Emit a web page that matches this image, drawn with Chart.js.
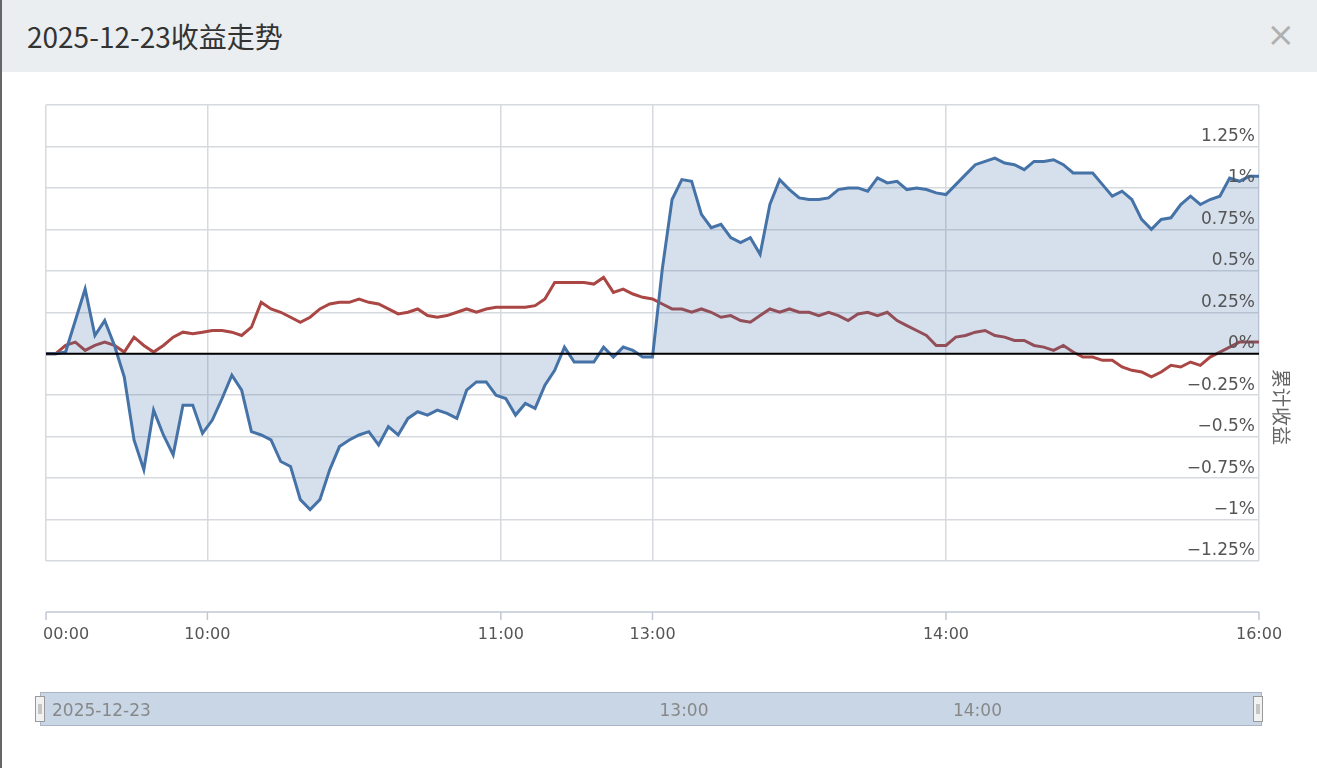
<!DOCTYPE html>
<html>
<head>
<meta charset="utf-8">
<script src="https://cdn.jsdelivr.net/npm/chart.js@4/dist/chart.umd.min.js"></script>
<style>
  html, body { margin: 0; padding: 0; background: #fff; }
  body { width: 1317px; height: 768px; overflow: hidden; border-left: 2px solid #666; box-sizing: border-box; }
  #head { height: 72px; background: #eaeef1; position: relative; }
  #head h1 { margin: 0; position: absolute; left: 25px; top: 16px; font: 28px "Noto Sans CJK SC", "Noto Sans", sans-serif; color: #333; font-weight: normal; }
  #head span { position: absolute; right: 22px; top: 14px; font: 34px "DejaVu Sans", sans-serif; color: #b0b0b0; }
  #wrap { position: absolute; left: 0; top: 72px; width: 1317px; height: 696px; }
</style>
</head>
<body>
<div id="head"><h1>2025-12-23收益走势</h1><span>×</span></div>
<div id="wrap"><canvas id="myChart"></canvas></div>
<script>
// one point every 2 trading minutes, values in %
const portfolio = [0, 0, 0.01, 0.2, 0.39, 0.11, 0.2, 0.05, -0.14, -0.52, -0.7, -0.34, -0.49, -0.61, -0.31, -0.31,
  -0.48, -0.4, -0.27, -0.13, -0.22, -0.47, -0.49, -0.52, -0.65, -0.68, -0.88, -0.94, -0.88, -0.7, -0.56, -0.52,
  -0.49, -0.47, -0.55, -0.44, -0.49, -0.39, -0.35, -0.37, -0.34, -0.36, -0.39, -0.22, -0.17, -0.17, -0.25, -0.27,
  -0.37, -0.3, -0.33, -0.19, -0.1, 0.04, -0.05, -0.05, -0.05, 0.04, -0.02, 0.04, 0.02, -0.02, -0.02, 0.51,
  0.93, 1.05, 1.04, 0.84, 0.76, 0.78, 0.7, 0.67, 0.7, 0.6, 0.9, 1.05, 0.99, 0.94, 0.93, 0.93,
  0.94, 0.99, 1.0, 1.0, 0.98, 1.06, 1.03, 1.04, 0.99, 1.0, 0.99, 0.97, 0.96, 1.02, 1.08, 1.14,
  1.16, 1.18, 1.15, 1.14, 1.11, 1.16, 1.16, 1.17, 1.14, 1.09, 1.09, 1.09, 1.02, 0.95, 0.98, 0.93,
  0.81, 0.75, 0.81, 0.82, 0.9, 0.95, 0.9, 0.93, 0.95, 1.06, 1.04, 1.07, 1.07];
const benchmark = [0, 0, 0.05, 0.07, 0.02, 0.05, 0.07, 0.05, 0.01, 0.1, 0.05, 0.01, 0.05, 0.1, 0.13, 0.12,
  0.13, 0.14, 0.14, 0.13, 0.11, 0.16, 0.31, 0.27, 0.25, 0.22, 0.19, 0.22, 0.27, 0.3, 0.31, 0.31,
  0.33, 0.31, 0.3, 0.27, 0.24, 0.25, 0.27, 0.23, 0.22, 0.23, 0.25, 0.27, 0.25, 0.27, 0.28, 0.28,
  0.28, 0.28, 0.29, 0.33, 0.43, 0.43, 0.43, 0.43, 0.42, 0.46, 0.37, 0.39, 0.36, 0.34, 0.33, 0.3,
  0.27, 0.27, 0.25, 0.27, 0.25, 0.22, 0.23, 0.2, 0.19, 0.23, 0.27, 0.25, 0.27, 0.25, 0.25, 0.23,
  0.25, 0.23, 0.2, 0.24, 0.25, 0.23, 0.25, 0.2, 0.17, 0.14, 0.11, 0.05, 0.05, 0.1, 0.11, 0.13,
  0.14, 0.11, 0.1, 0.08, 0.08, 0.05, 0.04, 0.02, 0.05, 0.01, -0.02, -0.02, -0.04, -0.04, -0.08, -0.1,
  -0.11, -0.14, -0.11, -0.07, -0.08, -0.05, -0.07, -0.02, 0.01, 0.04, 0.07, 0.07, 0.07];
const tickPos = [0, 16.5, 46.5, 62, 92, 124];
const tickText = ["00:00", "10:00", "11:00", "13:00", "14:00", "16:00"];
const navText = ["2025-12-23", "13:00", "14:00"];
const navPos = [0.6, 62, 92];

const fmt = (v) => {
  const s = String(Math.round(Math.abs(v) * 100) / 100) + "%";
  return v < 0 ? "\u2212" + s : s;
};

const extras = {
  id: "extras",
  afterDraw(chart) {
    const c = chart.ctx, a = chart.chartArea, x = chart.scales.x, y = chart.scales.y;
    c.save();
    // zero line
    c.strokeStyle = "#000"; c.lineWidth = 2;
    c.beginPath(); c.moveTo(a.left, y.getPixelForValue(0)); c.lineTo(a.right, y.getPixelForValue(0)); c.stroke();
    // y labels
    c.font = "17px 'DejaVu Sans', sans-serif"; c.fillStyle = "#555";
    c.textAlign = "right"; c.textBaseline = "middle";
    y.ticks.forEach((t) => {
      if (t.value > 1.3) return;
      c.fillText(fmt(t.value), a.right - 4, y.getPixelForValue(t.value) - 10);
    });
    // axis title
    c.save();
    c.translate(1281, 335); c.rotate(Math.PI / 2);
    c.textAlign = "center"; c.font = "19px 'Noto Sans CJK SC', sans-serif"; c.fillStyle = "#666";
    c.fillText("累计收益", 0, 0);
    c.restore();
    // detached x axis line
    const ly = a.bottom + 51;
    c.strokeStyle = "#c0c8d4"; c.lineWidth = 1.5;
    c.beginPath(); c.moveTo(a.left, ly); c.lineTo(a.right, ly); c.stroke();
    c.beginPath();
    tickPos.forEach((p) => { const px = x.getPixelForValue(p); c.moveTo(px, ly); c.lineTo(px, ly + 8); });
    c.stroke();
    c.textAlign = "center"; c.textBaseline = "middle"; c.fillStyle = "#555";
    c.font = "16px 'DejaVu Sans', sans-serif";
    tickPos.forEach((p, i) => c.fillText(tickText[i], x.getPixelForValue(p) + (i === 0 ? 20 : 0), ly + 23));
    // navigator
    const ny = a.bottom + 131;
    c.fillStyle = "#c9d6e6"; c.fillRect(40, ny, 1222, 34);
    c.strokeStyle = "#aab4c4"; c.lineWidth = 1; c.strokeRect(40.5, ny + 0.5, 1221, 33);
    [35, 1253].forEach((hx) => {
      c.fillStyle = "#f2f2f2"; c.fillRect(hx, ny + 4, 10, 26);
      c.strokeStyle = "#999"; c.strokeRect(hx + 0.5, ny + 4.5, 9, 25);
      c.beginPath(); c.moveTo(hx + 4, ny + 12); c.lineTo(hx + 4, ny + 22); c.moveTo(hx + 6, ny + 12); c.lineTo(hx + 6, ny + 22); c.stroke();
    });
    c.fillStyle = "#888"; c.font = "17px 'DejaVu Sans', sans-serif"; c.textAlign = "left";
    navText.forEach((t, i) => {
      const px = x.getPixelForValue(navPos[i]);
      c.fillText(t, i === 0 ? 52 : px + 7, ny + 20);
    });
    c.restore();
  }
};

new Chart(document.getElementById("myChart"), {
  type: "line",
  data: {
    datasets: [
      {
        data: portfolio.map((v, i) => ({ x: i, y: v })),
        borderColor: "#4572a7",
        backgroundColor: "rgba(69,114,167,0.22)",
        fill: "origin",
        borderWidth: 3,
        pointRadius: 0,
        tension: 0,
      },
      {
        data: benchmark.map((v, i) => ({ x: i, y: v })),
        borderColor: "#aa4643",
        borderWidth: 3,
        pointRadius: 0,
        fill: false,
        tension: 0,
      },
    ],
  },
  options: {
    responsive: true,
    maintainAspectRatio: false,
    animation: false,
    layout: { padding: { top: 33, left: 46, right: 0, bottom: 0 } },
    plugins: { legend: { display: false }, tooltip: { enabled: false } },
    scales: {
      x: {
        type: "linear",
        min: 0,
        max: 124,
        afterBuildTicks: (s) => { s.ticks = tickPos.map((v) => ({ value: v })); },
        afterFit: (s) => { s.height = 207; },
        ticks: { display: false },
        grid: { color: "#d6d9de", lineWidth: 1.5, drawTicks: false },
        border: { display: false },
      },
      y: {
        position: "right",
        min: -1.25,
        max: 1.5,
        ticks: { stepSize: 0.25, display: false },
        afterFit: (s) => { s.width = 58; },
        grid: { color: "#d6d9de", lineWidth: 1.5, drawTicks: false },
        border: { display: false },
      },
    },
  },
  plugins: [extras],
});
</script>
</body>
</html>
